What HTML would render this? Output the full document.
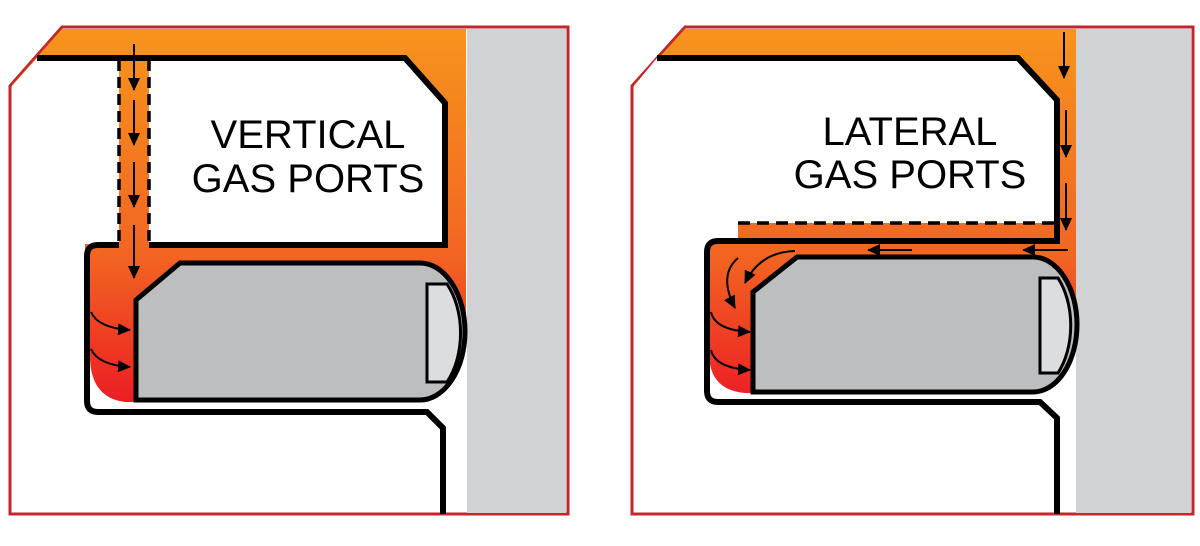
<!DOCTYPE html>
<html><head><meta charset="utf-8"><style>
html,body{margin:0;padding:0;background:#fff;}
svg{display:block;}
text{font-family:"Liberation Sans",Arial,sans-serif;font-size:40px;fill:#000;}
</style></head><body>
<svg width="1200" height="546" viewBox="0 0 1200 546" xmlns="http://www.w3.org/2000/svg">
<defs>
<linearGradient id="g" gradientUnits="userSpaceOnUse" x1="0" y1="29" x2="0" y2="405">
<stop offset="0" stop-color="#f7941d"/><stop offset="0.6" stop-color="#f26522"/><stop offset="1" stop-color="#ec1c24"/>
</linearGradient>
<marker id="ah" markerWidth="13" markerHeight="12" refX="12" refY="6" orient="auto" markerUnits="userSpaceOnUse">
<path d="M0,0 L13,6 L0,12 Z" fill="#000"/></marker>
</defs>

<!-- LEFT PANEL -->
<path d="M62,27 L568,27 L568,514 L10,514 L10,86 Z" fill="#fff" stroke="#c1272d" stroke-width="3"/>
<path d="M12,85 L62,29 L466,29 L466,335 L140,335 L140,402 L125,402 Q92,398 90,360 L90,250 L12,250 Z" fill="url(#g)"/>
<rect x="467" y="29" width="99" height="484" fill="#d1d2d4"/>
<path d="M12,86 L37,58 L405,58 L445,103 L445,244 L12,244 Z" fill="#fff"/>
<rect x="119" y="58" width="30" height="190" fill="url(#g)"/>
<path d="M12,244 L85,244 L85,512 L12,512 Z" fill="#fff"/>
<!-- black lines -->
<path d="M37,58 L405,58 L445,103 L445,245 L149,245" fill="none" stroke="#000" stroke-width="6"/>
<path d="M119,245 L98,245 Q87,245 87,256 L87,401 Q87,412 98,412 L427,412 L443,428 L443,514" fill="none" stroke="#000" stroke-width="6"/>
<line x1="119" y1="60" x2="119" y2="243" stroke="#000" stroke-width="3.5" stroke-dasharray="11,6"/>
<line x1="149" y1="60" x2="149" y2="243" stroke="#000" stroke-width="3.5" stroke-dasharray="11,6"/>
<!-- ring -->
<path d="M136,300 L180,263 L420,263 A45,68.5 0 0 1 420,400 L136,400 Z" fill="#bcbec0"/>
<path d="M427,284 L447,284 A45,68.5 0 0 1 447,382 L427,382 Z" fill="#dcdddf" stroke="#000" stroke-width="3"/>
<path d="M136,300 L180,263 L420,263 A45,68.5 0 0 1 420,400 L136,400 Z" fill="none" stroke="#000" stroke-width="5"/>
<!-- arrows -->
<g stroke="#000" stroke-width="2" fill="none" marker-end="url(#ah)">
<line x1="134" y1="44" x2="134" y2="90"/>
<line x1="134" y1="100" x2="134" y2="145"/>
<line x1="134" y1="162" x2="134" y2="207"/>
<line x1="134" y1="225" x2="134" y2="278"/>
<path d="M91,312 Q98,328 130,330"/>
<path d="M91,349 Q98,365 130,367"/>
</g>
<text x="308" y="148" text-anchor="middle">VERTICAL</text>
<text x="308" y="192" text-anchor="middle">GAS PORTS</text>

<!-- RIGHT PANEL -->
<path d="M685,27 L1193,27 L1193,514 L632,514 L632,86 Z" fill="#fff" stroke="#c1272d" stroke-width="3"/>
<path d="M634,85 L685,29 L1076,29 L1076,325 L755,325 L755,393 L745,393 Q710,390 709,355 L709,224 L634,224 Z" fill="url(#g)"/>
<rect x="1076" y="29" width="115" height="484" fill="#d1d2d4"/>
<path d="M634,86 L657,58 L1018,58 L1057,100 L1057,223 L738,223 L738,241 L634,241 Z" fill="#fff"/>
<path d="M634,241 L705,241 L705,512 L634,512 Z" fill="#fff"/>
<path d="M657,58 L1018,58 L1057,100 L1057,241 L718,241 Q707,241 707,252 L707,391 Q707,402 718,402 L1040,402 L1057,418 L1057,514" fill="none" stroke="#000" stroke-width="6"/>
<line x1="738" y1="223" x2="1055" y2="223" stroke="#000" stroke-width="3.5" stroke-dasharray="12,7"/>
<path d="M753,292 L797,257 L1033,257 A44,67.5 0 0 1 1033,392 L753,392 Z" fill="#bcbec0"/>
<path d="M1040,278 L1058,278 A44,67.5 0 0 1 1058,373 L1040,373 Z" fill="#dcdddf" stroke="#000" stroke-width="3"/>
<path d="M753,292 L797,257 L1033,257 A44,67.5 0 0 1 1033,392 L753,392 Z" fill="none" stroke="#000" stroke-width="5"/>
<g stroke="#000" stroke-width="2" fill="none" marker-end="url(#ah)">
<line x1="1064" y1="32" x2="1064" y2="78"/>
<line x1="1066" y1="110" x2="1066" y2="157"/>
<line x1="1066" y1="183" x2="1066" y2="230"/>
<line x1="1068" y1="250" x2="1023" y2="250"/>
<line x1="912" y1="250" x2="868" y2="250"/>
<path d="M795,251 Q760,252 745,283"/>
<path d="M738,258 Q718,275 735,308"/>
<path d="M711,312 Q715,330 750,332"/>
<path d="M711,350 Q715,368 750,370"/>
</g>
<text x="910" y="145" text-anchor="middle">LATERAL</text>
<text x="910" y="188" text-anchor="middle">GAS PORTS</text>
</svg>
</body></html>
